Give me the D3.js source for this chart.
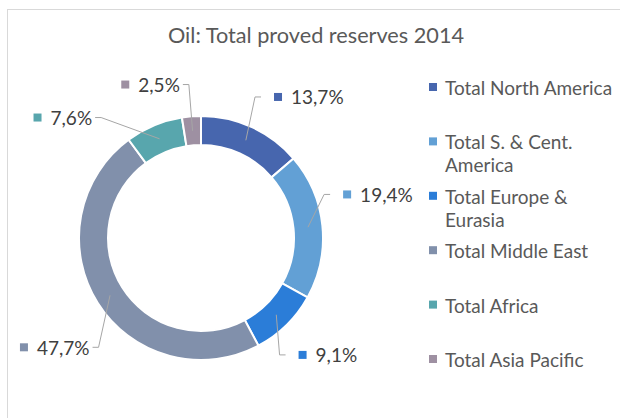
<!DOCTYPE html>
<html>
<head>
<meta charset="utf-8">
<script src="https://cdn.jsdelivr.net/npm/d3@7"></script>
<style>
  body { margin: 0; background: #fff; }
  svg { display: block; font-family: Lato, "Open Sans", sans-serif; }
</style>
</head>
<body>
<svg id="chart" width="620" height="418"></svg>
<script>
// data
var categories = [
    "Total North America",
    "Total S. & Cent. America",
    "Total Europe & Eurasia",
    "Total Middle East",
    "Total Africa",
    "Total Asia Pacific"
];
var shares = [13.7, 19.4, 9.1, 47.7, 7.6, 2.5];
var sliceColors = ["#4766ae", "#62a0d5", "#2b7dd8", "#8190ab", "#58a6ad", "#9e90a2"];

// label nudges from the default polar spot (px)
var labelNudge = [[4, 18], [-28, -26], [-21, -8], [-29, 16], [-96, 41], [-62, 21]];

var svg = d3.select("#chart"),
    cx = 201,
    cy = 238,
    outerR = 122,
    innerR = 93,
    labelR = 175;

// outer frame
svg.append("rect")
    .attr("x", 7.5)
    .attr("y", 9.5)
    .attr("width", 700)
    .attr("height", 500)
    .attr("fill", "none")
    .attr("stroke", "#d9d9d9");

svg.append("text")
    .attr("x", 316)
    .attr("y", 43)
    .attr("text-anchor", "middle")
    .attr("fill", "#595959")
    .style("font-size", "21.7px")
    .text("Oil: Total proved reserves 2014");

var pie = d3.pie().sort(null).value(function (d) { return d; });
var arcs = pie(shares);

var arc = d3.arc().innerRadius(innerR).outerRadius(outerR);

var g = svg.append("g").attr("transform", "translate(" + cx + "," + cy + ")");

g.selectAll("path.slice")
    .data(arcs)
    .enter()
    .append("path")
    .attr("class", "slice")
    .attr("d", arc)
    .attr("fill", function (d, i) { return sliceColors[i]; })
    .attr("stroke", "#fff")
    .attr("stroke-width", 2);

var fmt = function (v) { return d3.format(".1f")(v).replace(".", ",") + "%"; };

// data labels with leader lines
arcs.forEach(function (d, i) {
    var mid = (d.startAngle + d.endAngle) / 2;
    var mx = Math.sin(mid) * labelR + labelNudge[i][0];
    var my = -Math.cos(mid) * labelR + labelNudge[i][1];
    var c = arc.centroid(d);

    var lab = g.append("g");
    lab.append("rect")
        .attr("x", mx - 4)
        .attr("y", my - 4)
        .attr("width", 8)
        .attr("height", 8)
        .attr("fill", sliceColors[i]);
    var t = lab.append("text")
        .attr("x", mx + 13)
        .attr("y", my + 7.5)
        .attr("fill", "#404040")
        .style("font-size", "19px")
        .text(fmt(d.value));
    var tw = t.node().getComputedTextLength();

    var pts;
    if (c[0] < mx) {
        var sx = mx - 17;
        pts = [[sx, my], [sx - 6, my], c];
    } else {
        var ex = mx + 13 + tw + 3;
        pts = [[ex, my], [ex + 6, my], c];
    }
    g.append("path")
        .attr("d", d3.line()(pts))
        .attr("fill", "none")
        .attr("stroke", "#a6a6a6")
        .attr("stroke-width", 1);
});

// legend
var legX = 433,
    legY0 = 87,
    legStep = 54.4,
    legWrap = 172;

categories.forEach(function (name, i) {
    var y = legY0 + i * legStep;
    svg.append("rect")
        .attr("x", legX - 4)
        .attr("y", y - 4)
        .attr("width", 8)
        .attr("height", 8)
        .attr("fill", sliceColors[i]);
    var t = svg.append("text")
        .attr("x", legX + 12)
        .attr("y", y + 8)
        .attr("fill", "#595959")
        .style("font-size", "19px");
    var words = name.split(" "),
        line = [],
        ts = t.append("tspan").attr("x", legX + 12).attr("dy", 0);
    words.forEach(function (w) {
        line.push(w);
        ts.text(line.join(" "));
        if (ts.node().getComputedTextLength() > legWrap && line.length > 1) {
            line.pop();
            ts.text(line.join(" "));
            line = [w];
            ts = t.append("tspan").attr("x", legX + 12).attr("dy", 23).text(w);
        }
    });
});
</script>
</body>
</html>
